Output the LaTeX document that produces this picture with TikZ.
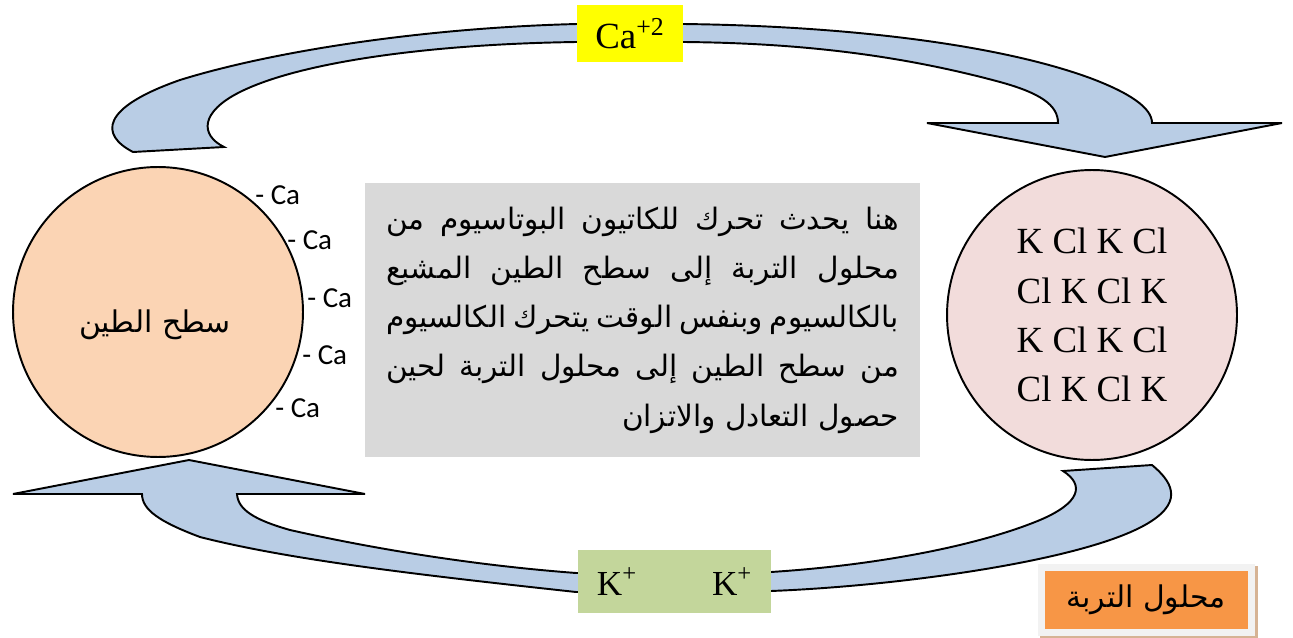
\documentclass[tikz,border=0pt]{standalone}
\usepackage{fontspec}
\usepackage{tikz}
\usetikzlibrary{positioning}
\setmainfont{Liberation Serif}
\newfontfamily\arabicfont[Script=Arabic]{DejaVu Sans}
\newfontfamily\calfont{Carlito}
\TeXXeTstate=1
\definecolor{bandblue}{HTML}{B9CDE5}
\definecolor{claypeach}{HTML}{FBD4B4}
\definecolor{solnpink}{HTML}{F2DCDB}
\definecolor{infogray}{HTML}{D9D9D9}
\definecolor{cayellow}{HTML}{FFFF00}
\definecolor{kgreen}{HTML}{C3D69B}
\definecolor{labelorange}{HTML}{F79646}
\definecolor{framegray}{HTML}{F2F2F2}
\definecolor{shadowtan}{HTML}{D6B394}
\newcommand{\arline}[1]{\makebox[10.26cm][s]{\beginR #1\endR}}

\begin{document}
\begin{tikzpicture}[x=0.02cm, y=-0.02cm,
                    band/.style={draw=black, line width=1.1pt, fill=bandblue},
                    bubble/.style={circle, draw=black, line width=1.1pt, minimum size=5.8cm, inner sep=0pt},
                    ionbox/.style={rectangle, inner sep=0pt, font=\fontsize{21}{25}\selectfont},
                    calab/.style={anchor=west, inner sep=0pt, font=\calfont\fontsize{16.5}{19}\selectfont}
                    ]
\useasboundingbox (0,0) rectangle (1293,638);

% clay surface and soil solution
\node[bubble, fill=claypeach] (clay) at (158,312) {};
\node[font=\arabicfont\fontsize{17}{21}\selectfont, inner sep=0pt] (claytext) at (155,325) {\beginR سطح الطين\endR};
\node[bubble, fill=solnpink, align=center, font=\fontsize{21}{28}\selectfont] (soln) at (1092,315)
  {K Cl K Cl\\Cl K Cl K\\K Cl K Cl\\Cl K Cl K};

\foreach \x/\y [count=\i] in {255/195, 287/240, 307/298, 302/355, 275/408}
  \node[calab] (ca\i) at (\x,\y) {- Ca};

% text in the middle
\node[fill=infogray, minimum width=11.1cm, minimum height=5.48cm, inner sep=0pt, align=right,
      font=\arabicfont\fontsize{16.8}{28}\selectfont] (info) at (642.5,320)
  {\arline{هنا يحدث تحرك للكاتيون البوتاسيوم من}\\
   \arline{محلول التربة إلى سطح الطين المشبع}\\
   \arline{بالكالسيوم وبنفس الوقت يتحرك الكالسيوم}\\
   \arline{من سطح الطين إلى محلول التربة لحين}\\
   \beginR حصول التعادل والاتزان\endR};

% upper arrow
\draw[band] (133,152) .. controls (100,135) and (100,108) .. (180,80)
  .. controls (270,52) and (420,28) .. (577,24) -- (683,24)
  .. controls (850,26) and (1000,45) .. (1090,78)
  .. controls (1130,93) and (1152,108) .. (1152,123)
  -- (1282,123) -- (1105,157) -- (927,123) -- (1058,123)
  .. controls (1058,105) and (1040,93) .. (1000,82)
  .. controls (900,55) and (800,43) .. (683,42) -- (577,42)
  .. controls (430,44) and (300,62) .. (240,92)
  .. controls (200,112) and (200,135) .. (224,147) -- cycle;

% lower arrow
\draw[band] (189,460) -- (365,494) -- (237,494)
  .. controls (238,510) and (255,520) .. (290,530)
  .. controls (370,548) and (470,565) .. (576,573) -- (771,572)
  .. controls (880,565) and (980,545) .. (1040,520)
  .. controls (1080,503) and (1085,485) .. (1063,471)
  -- (1152,465)
  .. controls (1170,480) and (1185,500) .. (1150,522)
  .. controls (1090,560) and (900,586) .. (771,591) -- (576,592)
  .. controls (420,575) and (290,560) .. (200,537)
  .. controls (160,522) and (142,510) .. (142,494)
  -- (13,494) -- cycle;

% ions
\node[ionbox, fill=cayellow, minimum width=2.12cm, minimum height=1.14cm] (caion) at (630,33.5) {Ca\textsuperscript{+2}};
\node[ionbox, fill=kgreen, minimum width=3.86cm, minimum height=1.26cm, font=\fontsize{20}{24}\selectfont] (kion) at (674.5,581.5)
  {K\textsuperscript{+}\hspace{1.5cm}K\textsuperscript{+}};

% label
\fill[shadowtan] (1040,566) rectangle (1258,640);
\node[fill=labelorange, draw=framegray, line width=0.14cm, minimum width=4.2cm, minimum height=1.3cm, inner sep=0pt,
      font=\arabicfont\fontsize{17}{21}\selectfont] (sollabel) at (1146,599.5) {\beginR محلول التربة\endR};
\end{tikzpicture}
\end{document}
